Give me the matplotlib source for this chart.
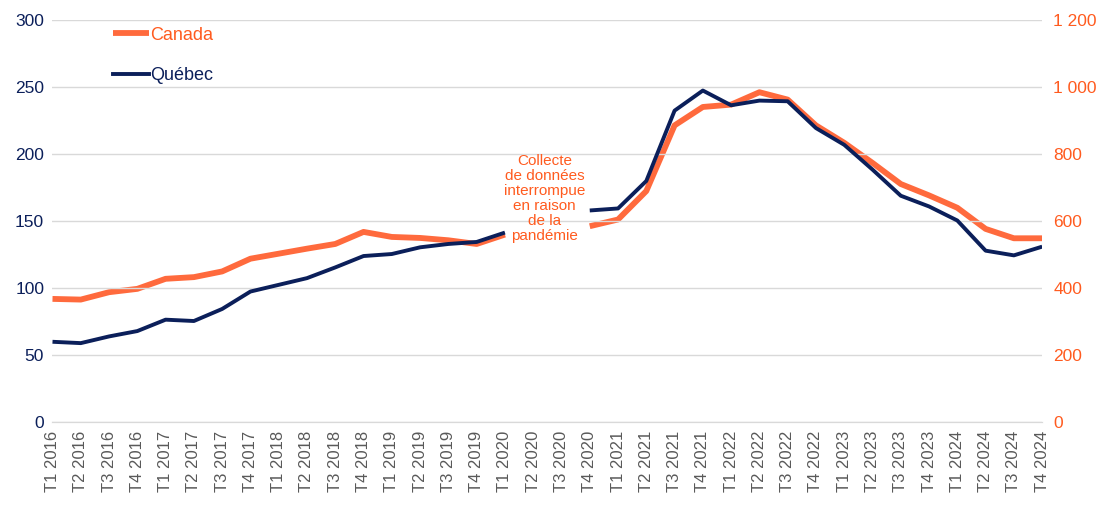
import matplotlib.pyplot as plt
import numpy as np
from matplotlib.ticker import FuncFormatter

plt.rcParams['font.family'] = ['Liberation Sans', 'DejaVu Sans']

# Quarters T1 2016 .. T4 2024
quarters = [f"T{q} {y}" for y in range(2016, 2025) for q in range(1, 5)]

# Québec (left axis); T2 and T3 2020 missing
quebec = [60, 59, 64, 68, 76.5, 75.5, 84.5, 97.5,
          102.5, 107.5, 115.5, 124, 125.5, 130.5, 133, 134.5,
          141.5, np.nan, np.nan, 158,
          159.5, 180, 232.5, 247.5, 236.5, 240, 239.5, 219.5,
          207, 188.5, 169, 161, 150.5, 128, 124.5, 131]

# Canada (right axis)
canada = [368, 366, 388, 398, 428, 433, 450, 488,
          503, 518, 532, 568, 553, 550, 543, 532,
          560, np.nan, np.nan, 585,
          605, 690, 886, 941, 948, 985, 963, 886,
          834, 774, 711, 677, 640, 577, 549, 549]

note = "Collecte\nde données\ninterrompue\nen raison\nde la\npandémie"

navy = "#0B1F5A"
orange = "#FF6A3D"
orange_txt = "#FF5B1F"

x = np.arange(len(quarters))

fig = plt.figure(figsize=(11.17, 5.05), dpi=100)
ax1 = fig.add_axes([0.047, 0.164, 0.886, 0.796])
ax2 = ax1.twinx()

l_ca, = ax2.plot(x, canada, color=orange, linewidth=4.2, label="Canada",
                 solid_capstyle='butt', zorder=2)
l_qc, = ax2.plot([], [], color=navy, linewidth=2.8, label="Québec")
ax1.plot(x, quebec, color=navy, linewidth=2.8, solid_capstyle='butt')
ax1.set_zorder(ax2.get_zorder() + 1)
ax1.patch.set_visible(False)

ax1.set_xlim(0, len(quarters) - 1)
ax1.set_ylim(0, 300)
ax2.set_ylim(0, 1200)
ax1.set_yticks(np.arange(0, 301, 50))
ax2.set_yticks(np.arange(0, 1201, 200))
ax2.yaxis.set_major_formatter(FuncFormatter(lambda v, p: f"{int(v):,}".replace(",", " ")))

ax1.grid(axis='y', color='#D9D9D9', linewidth=1)
ax1.set_axisbelow(True)

for ax in (ax1, ax2):
    for s in ('top', 'left', 'right'):
        ax.spines[s].set_visible(False)
    ax.spines['bottom'].set_color('#D9D9D9')

ax1.tick_params(axis='y', length=0, labelsize=12.5, colors=navy, pad=6)
ax2.tick_params(axis='y', length=0, labelsize=12.5, colors=orange_txt, pad=8)

ax1.set_xticks(x)
ax1.set_xticklabels(quarters, rotation=90, fontsize=12, color='#595959')
ax1.tick_params(axis='x', which='major', length=0, pad=6)
ax1.set_xticks(x[::2], minor=True)
ax1.tick_params(axis='x', which='minor', length=5, color='#D9D9D9')

ax1.text(17.4, 167, note, color=orange_txt, fontsize=11, ha='center',
         va='center', multialignment='center', linespacing=1.1)

leg = ax2.legend(handles=[l_ca, l_qc], loc='upper left',
                 bbox_to_anchor=(0.045, 1.024), frameon=False, fontsize=13,
                 handlelength=2.0, handletextpad=0.05, labelspacing=1.28)
leg.get_texts()[0].set_color(orange_txt)
leg.get_texts()[1].set_color(navy)

fig.savefig("out.png", dpi=100)
